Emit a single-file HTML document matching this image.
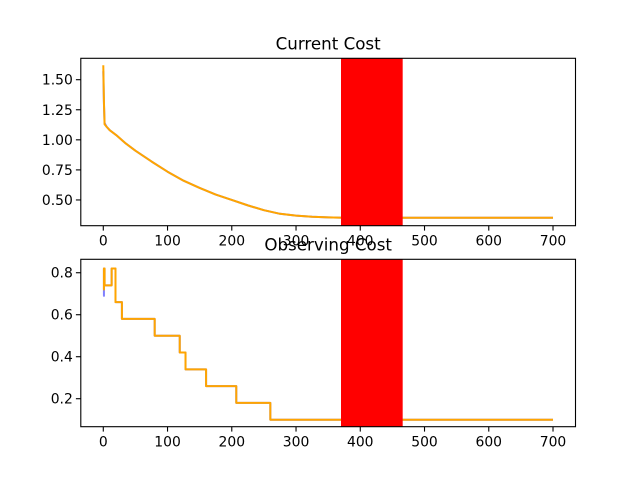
<!DOCTYPE html>
<html><head><meta charset="utf-8"><style>
html,body{margin:0;padding:0;background:#fff;}
svg{display:block;font-family:"DejaVu Sans","Liberation Sans",sans-serif;}
</style></head><body>
<svg id="chart" width="640" height="480" xmlns="http://www.w3.org/2000/svg"></svg>
<script>
const xTicks = [0,100,200,300,400,500,600,700];
const topYTicks = [0.50,0.75,1.00,1.25,1.50];
const botYTicks = [0.2,0.4,0.6,0.8];
const topX = [0,1,2,5,10,20,35,50,75,100,125,150,175,200,225,250,275,300,325,350,375,400,500,600,700];
const topBlue = [1.57,1.30,1.14,1.11,1.08,1.04,0.97,0.91,0.82,0.735,0.66,0.60,0.545,0.50,0.455,0.415,0.385,0.37,0.36,0.355,0.352,0.352,0.352,0.352,0.352];
const topOrange = [1.62,1.32,1.13,1.11,1.08,1.04,0.97,0.91,0.82,0.735,0.66,0.60,0.545,0.50,0.455,0.415,0.385,0.37,0.36,0.355,0.352,0.352,0.352,0.352,0.352];
const stepX = [0,1,2,13,19,29,80,119,128,160,207,260,700];
const stepBlue = [0.69,0.82,0.74,0.82,0.66,0.58,0.50,0.42,0.34,0.26,0.18,0.10,0.10];
const stepOrange = [0.72,0.82,0.74,0.82,0.66,0.58,0.50,0.42,0.34,0.26,0.18,0.10,0.10];
const spanStart = 370, spanEnd = 466;

const svg = document.getElementById('chart');
const NS = 'http://www.w3.org/2000/svg';
function mk(tag, attrs, parent){const e=document.createElementNS(NS,tag);for(const k in attrs)e.setAttribute(k,attrs[k]);(parent||svg).appendChild(e);return e;}
const L=80.8,R=575.5,xmin=-35,xmax=735;
const sx=v=>L+(v-xmin)/(xmax-xmin)*(R-L);

function panel(name,top,bot,ymin,ymax,yTicks,fmt,title,series,stepped){
  const g=mk('g',{});
  
  
  const sy=v=>bot-(v-ymin)/(ymax-ymin)*(bot-top);
  const colors=['blue','orange'];
  series.forEach((s,i)=>{
    let d='';
    s.ys.forEach((y,j)=>{
      const px=sx(s.xs[j]),py=sy(y);
      if(j===0)d+='M'+px+' '+py;
      else if(stepped)d+=' L'+px+' '+sy(s.ys[j-1])+' L'+px+' '+py;
      else d+=' L'+px+' '+py;
    });
    const p=mk('path',{d:d,fill:'none',stroke:colors[i],'stroke-width':2,'stroke-opacity':i===0?0.5:1,'stroke-linejoin':'round'},g);
    
    
  });
  const r=mk('rect',{x:sx(spanStart),y:top,width:sx(spanEnd)-sx(spanStart),height:bot-top,fill:'red'},g);
  
  
  const f=mk('rect',{x:L,y:top,width:R-L,height:bot-top,fill:'none',stroke:'#000','stroke-width':1.1},g);
  
  
  xTicks.forEach(t=>{
    const x=sx(t);
    mk('line',{x1:x,x2:x,y1:bot,y2:bot+4.9,stroke:'#000','stroke-width':1.1},g);
    const tx=mk('text',{x:x,y:bot+20,'font-size':13.9,'text-anchor':'middle'},g);
    tx.textContent=t;
    
    
  });
  yTicks.forEach(t=>{
    const y=sy(t);
    mk('line',{x1:L-4.9,x2:L,y1:y,y2:y,stroke:'#000','stroke-width':1.1},g);
    const tx=mk('text',{x:L-8,y:y+5,'font-size':13.9,'text-anchor':'end'},g);
    tx.textContent=t.toFixed(fmt);
    
    
  });
  const tt=mk('text',{x:(L+R)/2,y:top-9,'font-size':16.7,'text-anchor':'middle'},g);
  tt.textContent=title;
  
  
}
panel('current-cost-panel',58.3,225.7,0.286,1.678,topYTicks,2,'Current Cost',
  [{xs:topX,ys:topBlue},{xs:topX,ys:topOrange}],false);
panel('observing-cost-panel',259.3,426.7,0.0667,0.864,botYTicks,1,'Observing Cost',
  [{xs:stepX,ys:stepBlue},{xs:stepX,ys:stepOrange}],true);
</script>
</body></html>
